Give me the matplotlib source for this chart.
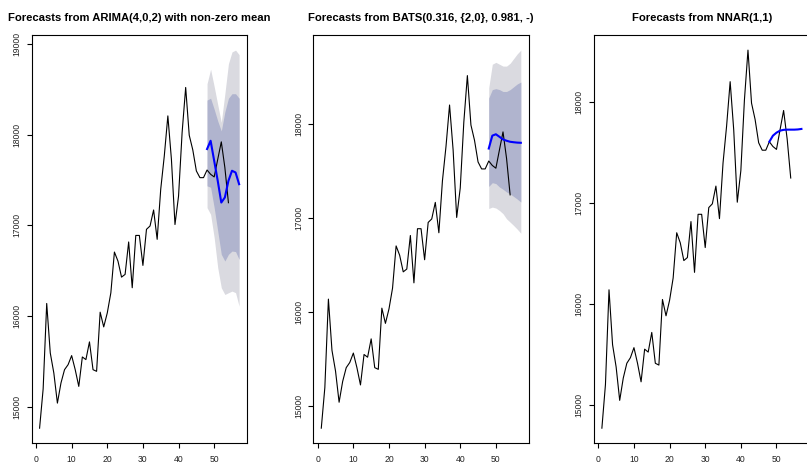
import numpy as np
import matplotlib
matplotlib.use("Agg")
import matplotlib.pyplot as plt
from matplotlib.ticker import MultipleLocator

# ------------------------------------------------------------
# data
# ------------------------------------------------------------
t_obs = np.arange(1, 55)
y_obs = [14768, 15200, 16141, 15596, 15375, 15044, 15265, 15412, 15467, 15567,
         15412, 15228, 15552, 15523, 15718, 15412, 15394, 16045, 15883, 16037,
         16258, 16707, 16607, 16431, 16461, 16818, 16314, 16890, 16890, 16560,
         16957, 16994, 17170, 16847, 17399, 17765, 18206, 17728, 17010, 17323,
         18022, 18519, 17993, 17831, 17600, 17526, 17526, 17610, 17563, 17534,
         17728, 17920, 17637, 17250]

t_fc = np.arange(48, 58)

arima_mean = [17841, 17932, 17712, 17491, 17252, 17308, 17491, 17602, 17583, 17454]
arima_lo80 = [17436, 17420, 17196, 16939, 16682, 16608, 16682, 16718, 16712, 16626]
arima_hi80 = [18380, 18400, 18280, 18150, 18040, 18250, 18400, 18450, 18450, 18400]
arima_lo95 = [17196, 17122, 16866, 16535, 16314, 16240, 16259, 16277, 16260, 16111]
arima_hi95 = [18560, 18720, 18530, 18330, 18135, 18450, 18780, 18910, 18930, 18880]

bats_mean = [17743, 17880, 17895, 17868, 17840, 17826, 17815, 17810, 17806, 17804]
bats_lo80 = [17340, 17380, 17370, 17334, 17310, 17281, 17260, 17233, 17205, 17174]
bats_hi80 = [18280, 18370, 18380, 18370, 18350, 18350, 18370, 18400, 18430, 18450]
bats_lo95 = [17105, 17120, 17110, 17084, 17050, 16995, 16960, 16924, 16885, 16842]
bats_hi95 = [18390, 18640, 18660, 18640, 18620, 18620, 18650, 18700, 18750, 18790]

nnar_mean = [17610, 17670, 17700, 17720, 17728, 17730, 17730, 17730, 17732, 17737]

titles = ["Forecasts from ARIMA(4,0,2) with non-zero mean",
          "Forecasts from BATS(0.316, {2,0}, 0.981, -)",
          "Forecasts from NNAR(1,1)"]

# ------------------------------------------------------------
# style
# ------------------------------------------------------------
plt.rcParams.update({
    "font.family": ["Liberation Sans", "DejaVu Sans"],
    "xtick.labelsize": 6.2,
    "ytick.labelsize": 6.2,
    "xtick.major.size": 3.3,
    "ytick.major.size": 3.3,
    "xtick.major.pad": 5.0,
    "ytick.major.pad": 4.0,
    "axes.linewidth": 0.8,
})

col80 = "#B0B4CE"
col95 = "#DADAE0"

W, H = 807, 470
fig = plt.figure(figsize=(W / 100, H / 100), dpi=100)

lefts = [31.6, 313.3, 593.9]
box_w, box_top, box_bot = 215.5, 35.0, 443.3

bands = [
    (arima_lo95, arima_hi95, arima_lo80, arima_hi80, arima_mean),
    (bats_lo95, bats_hi95, bats_lo80, bats_hi80, bats_mean),
    (None, None, None, None, nnar_mean),
]

for i, left in enumerate(lefts):
    ax = fig.add_axes([left / W, (H - box_bot) / H, box_w / W, (box_bot - box_top) / H])
    lo95, hi95, lo80, hi80, mean = bands[i]
    if lo95 is not None:
        ax.fill_between(t_fc, lo95, hi95, color=col95, linewidth=0)
        ax.fill_between(t_fc, lo80, hi80, color=col80, linewidth=0)
    ax.plot(t_obs, y_obs, color="black", linewidth=0.8)
    ax.plot(t_fc, mean, color="blue", linewidth=1.5)

    ax.margins(x=0.04, y=0.04)
    ax.xaxis.set_major_locator(MultipleLocator(10))
    ax.yaxis.set_major_locator(MultipleLocator(1000))
    for lab in ax.get_yticklabels():
        lab.set_rotation(90)
        lab.set_va("center")
    ax.tick_params(colors="black", labelcolor="#222222")
    ax.set_title(titles[i], fontsize=8.1, fontweight="bold", pad=10)

fig.savefig("out.png", dpi=100)
